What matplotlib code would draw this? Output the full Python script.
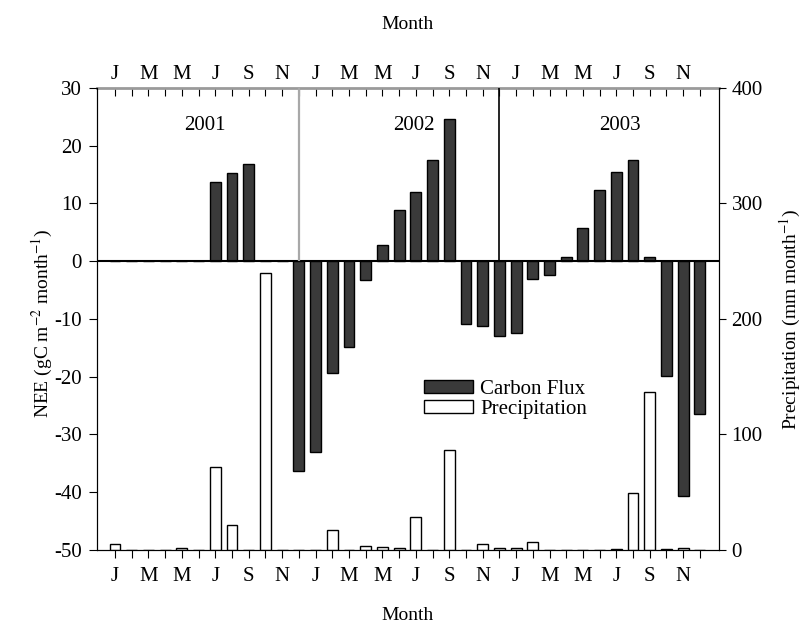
import numpy as np
import matplotlib.pyplot as plt
from matplotlib.patches import Patch

plt.rcParams['font.family'] = ['Liberation Serif', 'DejaVu Serif']
plt.rcParams['mathtext.fontset'] = 'stix'
plt.rcParams['font.size'] = 15
plt.rcParams['axes.unicode_minus'] = False

# monthly values, Jan 2001 .. Dec 2003
month_letters = ['J', 'F', 'M', 'A', 'M', 'J', 'J', 'A', 'S', 'O', 'N', 'D'] * 3
years = ['2001', '2002', '2003']

nee = [0, 0, 0, 0, 0, 0, 13.8, 15.2, 16.9, 0, 0, -36.4,
       -33.0, -19.3, -14.8, -3.3, 2.8, 8.9, 12.0, 17.5, 24.7, -10.9, -11.2, -13.0,
       -12.4, -3.0, -2.4, 0.8, 5.8, 12.4, 15.5, 17.5, 0.8, -19.9, -40.7, -26.5]

precip = [5, 0, 0, 0, 1.5, 0, 72, 22, 0, 240, 0, 0,
          0, 17, 0, 3.5, 3, 1.5, 29, 0, 87, 0, 5, 1.5,
          1.5, 6.5, 0, 0, 0, 0, 1.3, 49, 137, 1.3, 1.5, 0]

x = np.arange(len(nee))
tick_labels = [m if i % 2 == 0 else '' for i, m in enumerate(month_letters)]

fig = plt.figure(figsize=(8.06, 6.28), dpi=100)
ax = fig.add_axes([0.1203, 0.1242, 0.7717, 0.7357])

ax.bar(x, nee, width=0.65, color='#3a3a3a', edgecolor='black', linewidth=1)
ax.axhline(0, color='black', lw=1.5)
ax.vlines(11, 0, 30, color='#a8a8a8', lw=1.6)
ax.vlines(23, 0, 30, color='black', lw=1.2)

ax.set_xlim(-1.08, 36.14)
ax.set_ylim(-50, 30)
ax.set_yticks(range(-50, 31, 10))
ax.set_xticks(x, tick_labels)
ax.tick_params(axis='x', direction='out', length=6, pad=6)
ax.tick_params(axis='y', direction='out', length=6, pad=5)
ax.set_ylabel('NEE (gC m$^{-2}$ month$^{-1}$)', fontsize=14)
ax.yaxis.set_label_coords(-0.068, 0.49)
ax.set_xlabel('Month', labelpad=15, fontsize=14)

for i, yr in enumerate(years):
    ax.text([5.4, 17.9, 30.2][i], 23.5, yr, ha='center', va='center')

secax = ax.secondary_xaxis('top')
secax.set_xticks(x, tick_labels)
secax.tick_params(direction='in', length=6, pad=3)
secax.set_xlabel('Month', labelpad=26, fontsize=14)
secax.spines['top'].set_color('#9a9a9a')
secax.spines['top'].set_linewidth(2)
ax.spines['top'].set_visible(False)

ax2 = ax.twinx()
ax2.bar(x, precip, width=0.65, color='white', edgecolor='black', linewidth=1)
ax2.set_ylim(0, 400)
ax2.set_yticks(range(0, 401, 100))
ax2.tick_params(axis='y', direction='out', length=5, pad=4)
ax2.spines['top'].set_visible(False)
ax2.set_ylabel('Precipitation (mm month$^{-1}$)', fontsize=14)
ax2.yaxis.set_label_coords(1.095, 0.5)

handles = [Patch(facecolor='#3a3a3a', edgecolor='black', label='Carbon Flux'),
           Patch(facecolor='white', edgecolor='black', label='Precipitation')]
ax2.legend(handles=handles, loc='upper left', bbox_to_anchor=(0.526, 0.395),
           bbox_transform=fig.transFigure, frameon=False, borderpad=0,
           borderaxespad=0, handlelength=2.35, handleheight=0.6,
           handletextpad=0.35, labelspacing=0.05)

fig.savefig('out.png', dpi=100)
